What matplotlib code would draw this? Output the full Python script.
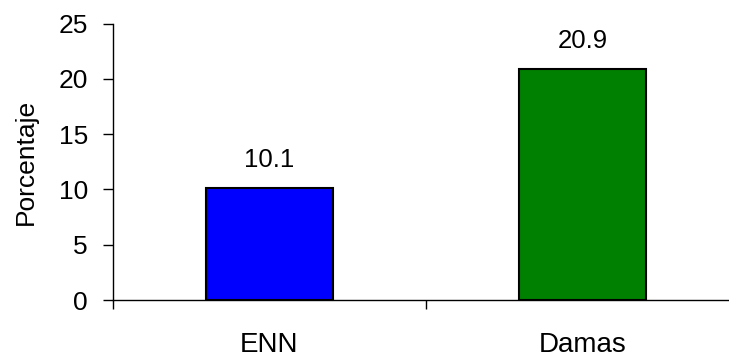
import matplotlib
matplotlib.use("Agg")
import matplotlib.pyplot as plt

categories = ["ENN", "Damas"]
values = [10.1, 20.9]
colors = ["#0000FF", "#008000"]

plt.rcParams['font.family'] = ['Liberation Sans', 'DejaVu Sans']

fig = plt.figure(figsize=(7.29, 3.58), dpi=100)
ax = fig.add_axes([113 / 729, 58 / 358, 626 / 729, 276.5 / 358])

pos = [0.5 + i for i in range(len(categories))]
ax.bar(pos, values, width=0.403, color=colors, edgecolor="black", linewidth=1.5)

for x, v in zip(pos, values):
    ax.text(x, v + 1.45, f"{v:.1f}", ha="center", va="bottom", fontsize=18.5)

ax.set_xlim(0, len(categories))
ax.set_ylim(0, 25)
ax.set_yticks(range(0, 26, 5))
ax.set_xticks(range(0, len(categories) + 1))
ax.set_xticklabels([])
ax.set_xticks(pos, minor=True)
ax.set_xticklabels(categories, minor=True)
ax.tick_params(axis="x", which="minor", length=0, pad=23, labelsize=20)
ax.tick_params(axis="x", which="major", length=6.5, width=1)
ax.tick_params(axis="y", length=7, width=1, pad=11, labelsize=19)
ax.set_ylabel("Porcentaje", fontsize=19, labelpad=15)

for side in ["top", "right"]:
    ax.spines[side].set_visible(False)
for side in ["left", "bottom"]:
    ax.spines[side].set_linewidth(1)

fig.savefig("out.png", dpi=100)
